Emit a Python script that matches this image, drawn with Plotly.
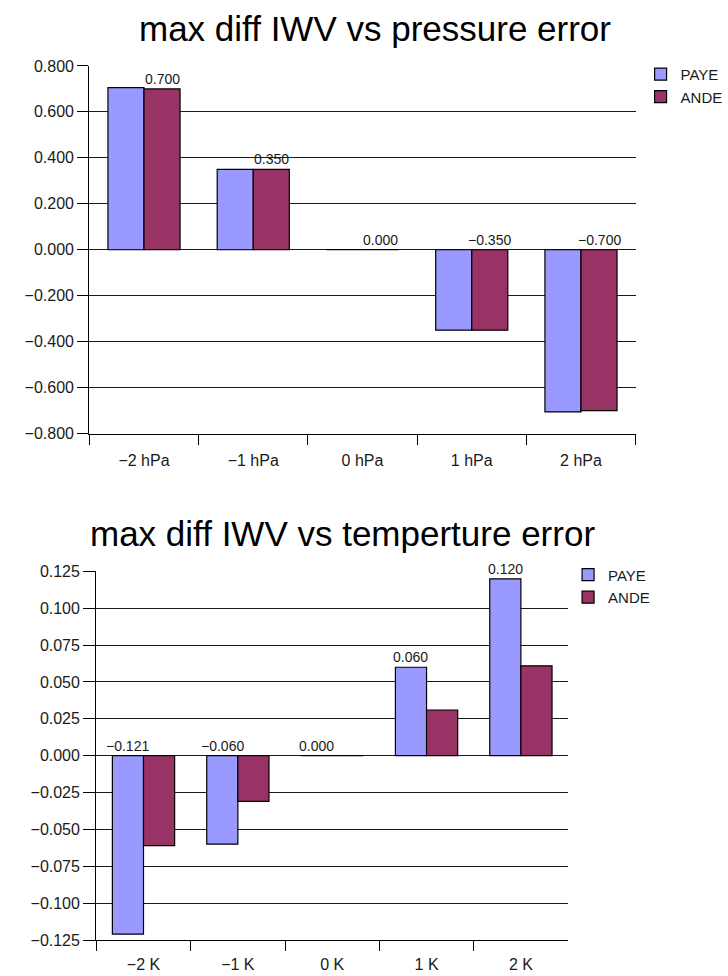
import plotly.graph_objects as go

# ---- data ----
top_title = "max diff IWV vs pressure error"
top_cats = ["−2 hPa", "−1 hPa", "0 hPa", "1 hPa", "2 hPa"]
top_paye = [0.706, 0.350, 0.000, -0.350, -0.706]
top_ande = [0.700, 0.350, 0.000, -0.350, -0.700]
top_ticks = [-0.8, -0.6, -0.4, -0.2, 0.0, 0.2, 0.4, 0.6, 0.8]

bot_title = "max diff IWV vs temperture error"
bot_cats = ["−2 K", "−1 K", "0 K", "1 K", "2 K"]
bot_paye = [-0.121, -0.060, 0.000, 0.060, 0.120]
bot_ande = [-0.061, -0.031, 0.000, 0.031, 0.061]
bot_ticks = [-0.125, -0.100, -0.075, -0.050, -0.025, 0.0, 0.025, 0.050, 0.075, 0.100, 0.125]

C_PAYE = "#9999FF"
C_ANDE = "#993366"
FONT = "Liberation Sans, Arial, sans-serif"
INK = "#1a1a1a"
W, H = 728, 976


def fx(px):
    return px / W


def fy(px):
    return 1 - (px - 8) / (H - 16)


def fmt(v):
    s = f"{v:.3f}"
    return s.replace("-", "−")


fig = go.Figure()
line = dict(color="black", width=1.2)

fig.add_trace(go.Bar(x=top_cats, y=top_paye, name="PAYE", marker=dict(color=C_PAYE, line=line),
                     xaxis="x", yaxis="y", legend="legend"))
fig.add_trace(go.Bar(x=top_cats, y=top_ande, name="ANDE", marker=dict(color=C_ANDE, line=line),
                     xaxis="x", yaxis="y", legend="legend"))
fig.add_trace(go.Bar(x=bot_cats, y=bot_paye, name="PAYE", marker=dict(color=C_PAYE, line=line),
                     xaxis="x2", yaxis="y2", legend="legend2"))
fig.add_trace(go.Bar(x=bot_cats, y=bot_ande, name="ANDE", marker=dict(color=C_ANDE, line=line),
                     xaxis="x2", yaxis="y2", legend="legend2"))

annotations = []
lab_font = dict(size=14, color=INK, family=FONT)
# data labels: top chart over ANDE bars, bottom chart over PAYE bars
for i, v in enumerate(top_ande):
    annotations.append(dict(x=i + 0.165, y=max(v, 0), xref="x", yref="y", text=fmt(v),
                            showarrow=False, yanchor="bottom", font=lab_font))
for i, v in enumerate(bot_paye):
    annotations.append(dict(x=i - 0.165, y=max(v, 0), xref="x2", yref="y2", text=fmt(v),
                            showarrow=False, yanchor="bottom", font=lab_font))
# titles
annotations.append(dict(x=fx(378), y=fy(29), xref="paper", yref="paper", text=top_title,
                        showarrow=False, xanchor="center", yanchor="middle",
                        font=dict(size=35, color="black", family=FONT)))
annotations.append(dict(x=fx(345), y=fy(534), xref="paper", yref="paper", text=bot_title,
                        showarrow=False, xanchor="center", yanchor="middle",
                        font=dict(size=35, color="black", family=FONT)))

ax_common = dict(showline=True, linecolor="black", linewidth=1.4, ticks="outside",
                 tickcolor="black", tickwidth=1.4, tickfont=dict(size=16, color=INK, family=FONT))

fig.update_layout(
    width=W, height=H, autosize=False,
    margin=dict(l=0, r=0, t=0, b=0),
    paper_bgcolor="white", plot_bgcolor="white",
    barmode="group", bargap=0.34, bargroupgap=0,
    font=dict(family=FONT, color=INK),
    xaxis=dict(domain=[fx(90), fx(640)], anchor="y", type="category", tickson="boundaries",
               ticklen=10, ticklabelstandoff=12, showgrid=False, **ax_common),
    yaxis=dict(domain=[fy(434), fy(66)], anchor="x", range=[-0.8, 0.8],
               tickvals=top_ticks, tickformat=".3f", ticklen=11,
               showgrid=True, gridcolor="#1a1a1a", gridwidth=1.3,
               zeroline=True, zerolinecolor="#1a1a1a", zerolinewidth=1.3, **ax_common),
    xaxis2=dict(domain=[fx(97), fx(572)], anchor="y2", type="category", tickson="boundaries",
                ticklen=10, ticklabelstandoff=10, showgrid=False, **ax_common),
    yaxis2=dict(domain=[fy(941), fy(572)], anchor="x2", range=[-0.125, 0.125],
                tickvals=bot_ticks, tickformat=".3f", ticklen=12,
                showgrid=True, gridcolor="#1a1a1a", gridwidth=1.3,
                zeroline=True, zerolinecolor="#1a1a1a", zerolinewidth=1.3, **ax_common),
    legend=dict(x=fx(645), y=fy(58), xanchor="left", yanchor="top",
                font=dict(size=15, color=INK, family=FONT), bgcolor="rgba(0,0,0,0)",
                tracegroupgap=0, itemwidth=30),
    legend2=dict(x=fx(572), y=fy(559), xanchor="left", yanchor="top",
                 font=dict(size=15, color=INK, family=FONT), bgcolor="rgba(0,0,0,0)",
                 tracegroupgap=0, itemwidth=30),
    annotations=annotations,
    showlegend=True,
)

fig.write_html("out.html")
